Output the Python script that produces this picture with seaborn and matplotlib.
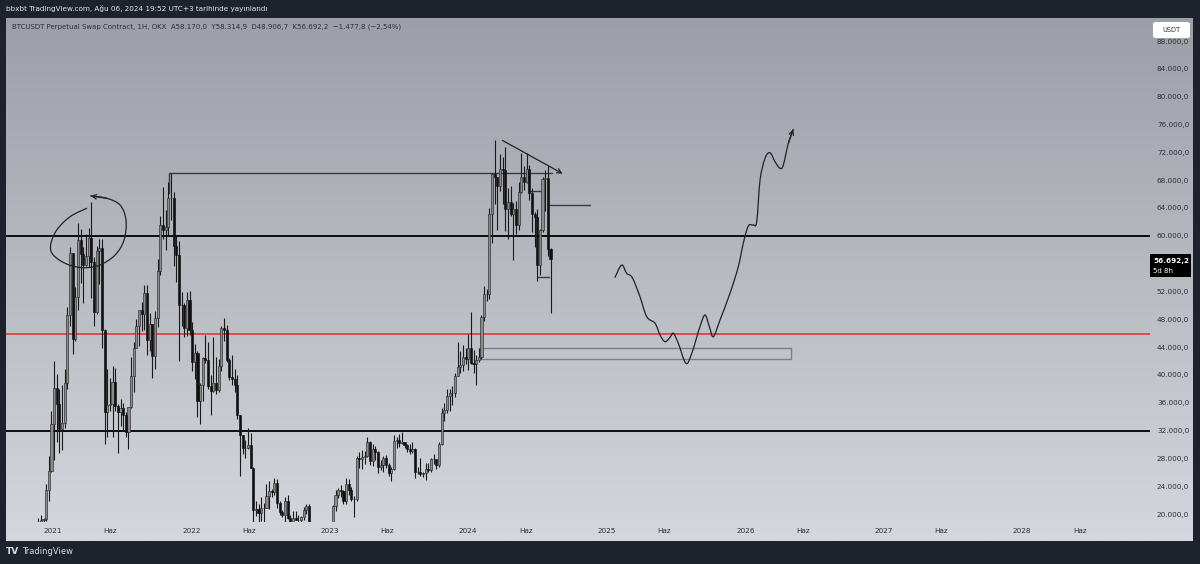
import matplotlib
matplotlib.use("Agg")
import matplotlib.pyplot as plt
import matplotlib.dates as mdates
from matplotlib.patches import Rectangle, FancyBboxPatch, PathPatch
from matplotlib.path import Path
import numpy as np
import pandas as pd
import seaborn as sns

sns.set_style("white")
plt.rcParams['font.family'] = ['DejaVu Sans']

# ---------------- data (prices in thousands of USDT) ----------------
first_date = "2020-11-09"
first_open = 15.5
close = [16.05, 18.4, 18.2, 19.15, 19.27, 23.48, 26.25, 33.0, 38.15, 35.8, 32.26, 33.1,
         38.8, 48.6, 57.5, 45.2, 51.2, 59.4, 57.4, 55.8, 57.1, 59.7, 56.2, 49.1, 57.8,
         58.2, 46.4, 34.7, 35.6, 35.8, 39.0, 35.5, 34.7, 35.29, 34.24, 31.78, 35.4, 39.85,
         43.8, 47.1, 49.3, 48.8, 51.8, 45.0, 47.3, 42.7, 48.2, 54.9, 61.5, 60.9, 61.3,
         65.5, 65.5, 58.6, 57.3, 50.0, 50.1, 46.7, 50.8, 46.4, 41.8, 43.1, 36.3, 38.5,
         42.4, 42.2, 38.4, 37.7, 38.8, 37.8, 41.3, 46.8, 46.4, 42.2, 39.7, 39.45, 38.5,
         34.3, 31.3, 29.45, 29.45, 29.9, 26.6, 20.55, 20.7, 20.2, 20.8, 20.8, 22.6, 23.3,
         23.2, 24.45, 21.55, 20.3, 19.8, 21.8, 19.4, 18.8, 19.4, 19.1, 19.2, 19.6, 20.6,
         21.2, 16.3, 16.3, 16.4, 17.1, 17.1, 16.8, 16.7, 16.65, 17.2, 21.2, 22.7, 23.5,
         23.3, 21.8, 24.3, 23.5, 22.2, 22.1, 28.0, 27.9, 28.2, 28.3, 30.3, 27.6, 29.3,
         28.9, 26.8, 27.1, 28.1, 27.1, 25.9, 26.5, 30.5, 30.6, 30.2, 30.3, 29.9, 29.3,
         29.1, 29.3, 26.1, 26.1, 25.8, 25.9, 26.5, 26.3, 27.9, 27.9, 27.1, 30.0, 34.5,
         35.0, 37.0, 37.4, 37.4, 39.9, 41.2, 41.4, 42.6, 42.3, 43.9, 41.7, 41.6, 42.1,
         42.6, 48.3, 51.6, 51.7, 63.1, 68.9, 68.4, 67.2, 69.65, 69.4, 63.9, 64.9, 63.1,
         63.9, 61.5, 66.3, 68.5, 67.8, 69.65, 66.2, 63.2, 62.7, 55.85, 60.8, 68.2, 68.25,
         58.15, 56.69]
high = [16.5, 18.8, 19.4, 19.92, 19.4, 24.3, 28.4, 34.8, 42.0, 40.1, 37.9, 38.5,
        40.9, 49.7, 58.35, 57.5, 52.6, 61.8, 61.0, 58.4, 60.2, 61.1, 64.85, 57.0, 58.5,
        59.5, 59.6, 46.6, 40.8, 39.5, 41.3, 41.0, 35.75, 36.6, 35.9, 34.6, 35.4, 42.6,
        44.7, 48.1, 49.4, 50.5, 52.9, 52.9, 48.9, 47.3, 49.2, 56.6, 62.9, 67.0, 63.7,
        67.8, 69.0, 66.3, 59.9, 59.2, 51.9, 50.3, 51.9, 52.1, 47.6, 44.4, 43.5, 38.9,
        42.6, 45.8, 44.8, 40.0, 45.4, 42.6, 42.3, 47.0, 48.2, 47.2, 42.4, 42.9, 40.8,
        40.0, 34.3, 31.3, 30.6, 32.3, 31.7, 26.8, 21.9, 21.4, 22.5, 21.6, 24.3, 24.7,
        23.6, 25.2, 25.0, 21.9, 20.6, 22.5, 22.8, 19.9, 20.4, 20.5, 19.9, 19.7, 21.0,
        21.5, 21.5, 17.2, 16.8, 17.4, 17.4, 18.4, 17.1, 16.9, 17.4, 21.3, 23.4, 23.8,
        24.2, 23.4, 25.2, 25.1, 23.9, 22.6, 28.4, 28.9, 29.2, 29.0, 31.0, 30.5, 30.0,
        29.8, 29.0, 27.7, 28.4, 28.5, 27.4, 26.8, 31.4, 31.0, 31.5, 31.8, 30.4, 30.0,
        30.0, 30.3, 29.5, 26.8, 28.1, 26.1, 27.4, 27.4, 28.0, 28.6, 27.9, 30.3, 35.2,
        35.9, 38.0, 37.9, 38.4, 40.2, 44.7, 43.4, 44.3, 43.8, 45.9, 49.0, 43.6, 42.8,
        43.9, 48.6, 52.8, 52.4, 64.0, 69.0, 73.8, 68.5, 71.8, 71.3, 72.8, 66.9, 67.2,
        64.7, 65.0, 67.7, 71.9, 70.0, 71.95, 70.2, 66.9, 63.4, 63.8, 61.0, 68.4, 69.4,
        70.0, 58.31]
low = [15.1, 15.95, 16.2, 18.0, 17.6, 19.0, 21.9, 26.0, 27.7, 30.4, 28.8, 29.2,
       32.3, 38.0, 47.0, 43.0, 44.9, 49.3, 53.2, 50.3, 55.6, 55.5, 51.0, 47.0, 48.7,
       53.0, 43.8, 30.0, 31.1, 34.8, 31.0, 34.8, 28.8, 32.7, 32.1, 31.1, 29.3, 35.2,
       37.5, 43.8, 44.2, 46.3, 46.5, 42.8, 43.4, 39.6, 40.8, 46.9, 54.4, 59.5, 58.0,
       60.1, 62.3, 55.6, 53.3, 42.0, 47.1, 45.5, 45.6, 45.7, 40.6, 39.4, 34.0, 32.9,
       36.2, 41.7, 38.0, 34.3, 37.5, 37.2, 37.6, 40.5, 44.9, 41.9, 39.2, 38.6, 37.6,
       33.7, 25.4, 28.6, 28.0, 29.3, 26.6, 17.6, 19.7, 18.6, 19.0, 18.9, 20.8, 20.7,
       22.4, 22.7, 20.8, 19.8, 19.5, 18.5, 19.3, 18.1, 18.5, 19.1, 18.1, 18.9, 19.2,
       20.0, 15.6, 15.8, 15.5, 16.0, 16.7, 16.5, 16.3, 16.3, 16.6, 17.2, 20.4, 22.3,
       22.5, 21.4, 21.5, 22.7, 21.9, 19.6, 21.9, 26.6, 26.5, 27.2, 28.2, 27.1, 26.9,
       27.7, 25.9, 26.3, 26.1, 26.6, 25.4, 24.8, 26.3, 29.5, 29.7, 30.0, 29.5, 28.9,
       28.6, 28.8, 25.2, 25.8, 25.4, 25.3, 24.9, 26.0, 26.1, 27.2, 26.5, 26.8, 29.9,
       33.4, 34.5, 34.8, 35.6, 36.8, 39.9, 40.2, 40.5, 41.5, 40.7, 41.5, 40.3, 38.5,
       41.8, 42.3, 47.7, 50.6, 50.9, 59.0, 64.5, 60.8, 66.5, 64.5, 60.7, 59.6, 62.8,
       56.5, 60.2, 60.8, 66.1, 66.6, 67.6, 65.1, 60.5, 58.4, 53.5, 54.3, 60.6, 63.5,
       57.1, 48.91]
last_open = 58.17

# drawn levels and annotations (decimal years, thousand USDT)
level_60 = 60.0
level_32 = 32.0
level_red = 45.85
ath_x = [2021.838, 2021.838, 2024.603]
ath_y = [66.15, 69.02, 69.02]
trend_x = [2024.227, 2024.697]
trend_y = [73.91, 68.74]
mid_x = [2024.574, 2024.877]
mid_y = 64.42
tick_a_x = [2024.444, 2024.531]
tick_a_y = 66.43
tick_b_x = [2024.502, 2024.581]
tick_b_y = 54.07
zone_x = [2024.083, 2026.329]
zone_y = [42.28, 43.86]
loop_x = [2021.243, 2021.123, 2021.027, 2020.983, 2021.002, 2021.099, 2021.219,
          2021.339, 2021.448, 2021.513, 2021.527, 2021.484, 2021.388, 2021.272]
loop_y = [63.95, 62.74, 60.83, 58.67, 57.23, 55.94, 55.41, 55.80, 57.23, 59.39,
          62.27, 64.43, 65.39, 65.73]
path_x = [2025.058, 2025.106, 2025.142, 2025.183, 2025.238, 2025.287, 2025.347,
          2025.383, 2025.419, 2025.455, 2025.479, 2025.515, 2025.570, 2025.612,
          2025.671, 2025.708, 2025.739, 2025.768, 2025.816, 2025.888, 2025.948,
          2025.984, 2026.020, 2026.056, 2026.081, 2026.105, 2026.141, 2026.177,
          2026.213, 2026.249, 2026.273, 2026.309, 2026.345]
path_y = [54.03, 55.80, 54.60, 53.97, 51.24, 48.36, 47.42, 45.73, 44.77, 45.40,
          45.98, 44.54, 41.66, 43.10, 46.93, 48.61, 46.93, 45.49, 47.89, 51.73,
          55.55, 58.92, 61.40, 61.55, 62.02, 68.02, 71.14, 71.94, 70.65, 69.70,
          70.17, 73.29, 75.31]
y_ticks = list(range(20, 92, 4))
years = list(range(2021, 2029))


def yr(v):
    return pd.Timestamp("2021-01-01") + pd.Timedelta(days=(v - 2021) * 365.25)


def pen(ax, xs, ys, lw=0.9, color="#222222"):
    # freehand stroke: smooth curve through every drawn point (Catmull-Rom as Bezier)
    p = np.column_stack([mdates.date2num([yr(v) for v in xs]), ys])
    q = np.vstack([p[0], p, p[-1]])
    verts, codes = [p[0]], [Path.MOVETO]
    for i in range(1, len(q) - 2):
        c1 = q[i] + (q[i + 1] - q[i - 1]) / 6
        c2 = q[i + 1] - (q[i + 2] - q[i]) / 6
        verts += [c1, c2, q[i + 1]]
        codes += [Path.CURVE4] * 3
    ax.add_patch(PathPatch(Path(verts, codes), facecolor="none", edgecolor=color,
                           lw=lw, capstyle="round", joinstyle="round", zorder=5))
    ax.annotate("", xy=(yr(xs[-1]), ys[-1]), xytext=(yr(xs[-2]), ys[-2]),
                arrowprops=dict(arrowstyle="->", color=color, lw=lw, mutation_scale=8,
                                shrinkA=0, shrinkB=0), zorder=5)


opens = [first_open] + close[:-2] + [last_open]
df = pd.DataFrame({"date": pd.date_range(first_date, periods=len(close), freq="7D"),
                   "open": opens, "high": high, "low": low, "close": close})
up = df["close"] >= df["open"]

# ---------------- figure ----------------
W, H = 1200, 564
fig = plt.figure(figsize=(12, 5.64), dpi=100, facecolor="#1e222d")

bg = fig.add_axes([6 / W, 1 - 541 / H, 1187 / W, 523 / H])
grad = np.linspace(0, 1, 256).reshape(-1, 1)
top = np.array([156, 159, 167]) / 255
bot = np.array([212, 215, 221]) / 255
img = top[None, None, :] * (1 - grad[:, :, None]) + bot[None, None, :] * grad[:, :, None]
bg.imshow(img, aspect="auto", extent=[0, 1, 0, 1])
bg.set_axis_off()

ax = fig.add_axes([6 / W, 1 - 522 / H, 1144 / W, 504 / H])
ax.patch.set_visible(False)
for s in ax.spines.values():
    s.set_visible(False)

# candles
ax.vlines(df["date"], df["low"], df["high"], colors="#1a1a1a", lw=0.8, zorder=3)
ax.bar(df["date"][up], (df["close"] - df["open"])[up], bottom=df["open"][up],
       width=5.5, color="#8b8b8e", edgecolor="#2a2a2a", linewidth=0.45, zorder=4)
ax.bar(df["date"][~up], (df["close"] - df["open"])[~up], bottom=df["open"][~up],
       width=5.5, color="#111111", edgecolor="#111111", linewidth=0.45, zorder=4)

# horizontal levels
ax.axhline(level_60, color="#0d0d0d", lw=1.4, zorder=2)
ax.axhline(level_32, color="#0d0d0d", lw=1.4, zorder=2)
ax.axhline(level_red, color="#e0404c", lw=1.3, zorder=2)

# drawings
sns.lineplot(x=[yr(v) for v in ath_x], y=ath_y, sort=False, estimator=None,
             color="#3a3a3a", lw=1.0, ax=ax, zorder=2)
ax.plot([yr(v) for v in mid_x], [mid_y, mid_y], color="#3a3a3a", lw=1.0, zorder=2)
ax.plot([yr(v) for v in tick_a_x], [tick_a_y, tick_a_y], color="#3a3a3a", lw=1.0, zorder=2)
ax.plot([yr(v) for v in tick_b_x], [tick_b_y, tick_b_y], color="#3a3a3a", lw=1.0, zorder=2)
ax.annotate("", xy=(yr(trend_x[1]), trend_y[1]), xytext=(yr(trend_x[0]), trend_y[0]),
            arrowprops=dict(arrowstyle="->", color="#222222", lw=0.9, mutation_scale=8),
            zorder=5)
ax.fill_between([yr(v) for v in zone_x], zone_y[0], zone_y[1], facecolor="#c2c4c9",
                edgecolor="#76787e", lw=1.0, alpha=0.9, zorder=1)

pen(ax, loop_x, loop_y)
pen(ax, path_x, path_y)

# axes
ax.set_xlim(yr(2020.6606), yr(2028.9206))
ax.set_ylim(18.85, 91.31)
ax.set_xlabel("")
ax.set_ylabel("")
ax.yaxis.tick_right()
ax.set_yticks(y_ticks)
ax.set_yticklabels([f"{v * 1000:,.0f}".replace(",", ".") + ",0" for v in y_ticks])
xt, xl = [], []
for y in years:
    xt += [pd.Timestamp(f"{y}-01-01"), pd.Timestamp(f"{y}-06-01")]
    xl += [str(y), "Haz"]
ax.set_xticks(xt)
ax.set_xticklabels(xl)
ax.tick_params(axis="y", length=0, pad=5, labelsize=5.2, labelcolor="#2a2e39")
ax.tick_params(axis="x", length=0, pad=4.5, labelsize=5.2, labelcolor="#2a2e39")
ax.grid(False)

# texts
fig.text(6 / W, 1 - 9 / H, "bbxbt TradingView.com, Ağu 06, 2024 19:52 UTC+3 tarihinde yayınlandı",
         color="#e6e8ee", fontsize=5.2, va="center", ha="left")
fig.text(12 / W, 1 - 27 / H,
         "BTCUSDT Perpetual Swap Contract, 1H, OKX  A58.170,0  Y58.314,9  D48.906,7  K56.692,2  −1.477,8 (−2,54%)",
         color="#2a2e39", fontsize=5.0, va="center", ha="left")

fig.patches.append(FancyBboxPatch((1153 / W, 1 - 38 / H), 37 / W, 16 / H,
                                  boxstyle="round,pad=0,rounding_size=0.003",
                                  transform=fig.transFigure, facecolor="white",
                                  edgecolor="none"))
fig.text(1171.5 / W, 1 - 30 / H, "USDT", color="#2a2e39", fontsize=4.8,
         ha="center", va="center")

fig.patches.append(Rectangle((1150 / W, 1 - 277 / H), 41 / W, 23 / H,
                             transform=fig.transFigure, facecolor="black",
                             edgecolor="none"))
fig.text(1153 / W, 1 - 260.5 / H, "56.692,2", color="white", fontsize=5.2,
         fontweight="bold", ha="left", va="center")
fig.text(1153 / W, 1 - 271 / H, "5d 8h", color="white", fontsize=5.0,
         ha="left", va="center")

fig.text(6 / W, 1 - 552 / H, "TV", color="#d8dbe2", fontsize=6.5, fontweight="heavy",
         ha="left", va="center")
fig.text(22 / W, 1 - 552 / H, "TradingView", color="#d8dbe2", fontsize=6.0,
         ha="left", va="center")

fig.savefig("out.png", dpi=100, facecolor=fig.get_facecolor())
